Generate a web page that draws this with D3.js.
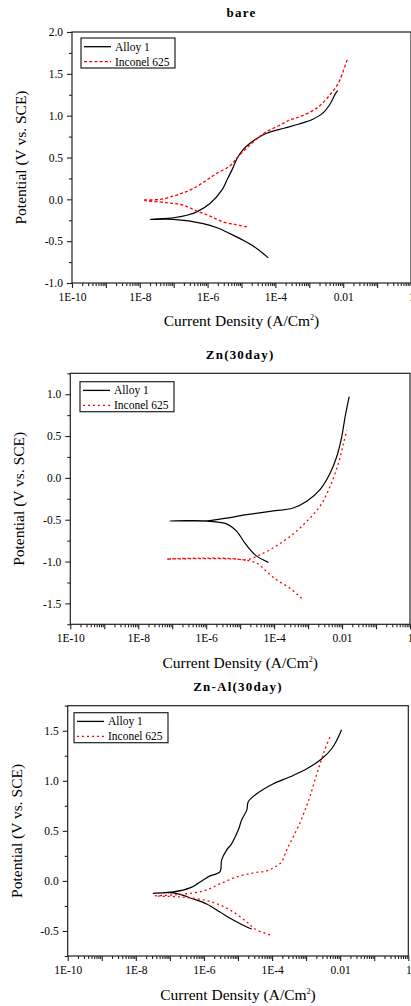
<!DOCTYPE html>
<html>
<head>
<meta charset="utf-8">
<script src="https://cdn.jsdelivr.net/npm/d3@7"></script>
<style>
  body { margin: 0; background: #fff; }
  text { font-family: "Liberation Serif", "Times New Roman", serif; fill: #000; }
</style>
</head>
<body>
<div id="vis"></div>
<script>
// values: [log10 current density, potential V]
var bareAlloy1 = [[-4.21,-0.70],[-4.54,-0.59],[-4.95,-0.49],[-5.34,-0.41],[-5.72,-0.34],[-6.13,-0.29],[-7.01,-0.24],[-7.69,-0.24],
                  [-7.01,-0.22],[-6.61,-0.19],[-6.32,-0.15],[-5.93,-0.05],[-5.58,0.11],[-5.43,0.23],[-5.26,0.37],[-5.13,0.49],
                  [-4.94,0.60],[-4.75,0.67],[-4.50,0.74],[-4.26,0.79],[-3.75,0.85],[-3.30,0.90],[-2.88,0.96],[-2.60,1.03],
                  [-2.40,1.13],[-2.22,1.27],[-2.16,1.30]];
var bareInconel = [[-4.84,-0.33],[-5.20,-0.30],[-5.54,-0.27],[-5.93,-0.20],[-6.32,-0.14],[-6.72,-0.07],[-7.21,-0.04],[-7.90,-0.01],
                   [-7.40,0.00],[-7.00,0.04],[-6.71,0.08],[-6.42,0.13],[-6.10,0.21],[-5.73,0.31],[-5.34,0.40],[-5.10,0.51],
                   [-4.75,0.65],[-4.50,0.74],[-4.26,0.81],[-3.90,0.88],[-3.57,0.95],[-3.27,0.99],[-2.78,1.09],[-2.39,1.25],
                   [-2.14,1.39],[-1.95,1.59],[-1.88,1.67]];

var znAlloy1 = [[-4.17,-1.01],[-4.56,-0.92],[-4.86,-0.78],[-5.10,-0.64],[-5.40,-0.55],[-5.89,-0.52],[-6.60,-0.515],[-7.07,-0.515],
                [-6.60,-0.51],[-5.89,-0.51],[-5.40,-0.48],[-4.81,-0.44],[-4.12,-0.40],[-3.44,-0.36],[-3.04,-0.28],[-2.65,-0.14],
                [-2.36,0.05],[-2.16,0.25],[-2.01,0.49],[-1.91,0.73],[-1.79,0.97]];
var znInconel = [[-3.19,-1.44],[-3.53,-1.32],[-3.92,-1.22],[-4.22,-1.12],[-4.51,-1.02],[-5.10,-0.97],[-6.18,-0.96],[-7.16,-0.97],
                 [-6.18,-0.965],[-5.10,-0.97],[-4.81,-0.98],[-4.42,-0.92],[-3.92,-0.81],[-3.44,-0.67],[-3.04,-0.52],[-2.65,-0.34],
                 [-2.36,-0.11],[-2.11,0.17],[-1.96,0.41],[-1.86,0.57]];

var znAlAlloy1 = [[-4.60,-0.48],[-4.74,-0.46],[-5.14,-0.39],[-5.53,-0.31],[-5.92,-0.23],[-6.31,-0.18],[-6.90,-0.12],[-7.49,-0.124],
                  [-6.90,-0.11],[-6.41,-0.07],[-6.02,0.01],[-5.82,0.05],[-5.53,0.09],[-5.48,0.21],[-5.33,0.31],[-5.19,0.37],
                  [-4.99,0.51],[-4.89,0.61],[-4.74,0.71],[-4.70,0.79],[-4.45,0.87],[-3.96,0.97],[-3.47,1.04],[-2.98,1.12],
                  [-2.54,1.22],[-2.25,1.32],[-2.05,1.44],[-1.96,1.51]];
var znAlInconel = [[-4.06,-0.54],[-4.50,-0.48],[-4.74,-0.41],[-5.14,-0.31],[-5.53,-0.24],[-6.02,-0.19],[-6.70,-0.16],[-7.44,-0.15],
                   [-6.90,-0.14],[-6.31,-0.12],[-5.92,-0.09],[-5.53,-0.03],[-5.04,0.04],[-4.55,0.08],[-4.16,0.10],[-3.91,0.14],
                   [-3.72,0.19],[-3.57,0.31],[-3.38,0.44],[-3.18,0.58],[-3.03,0.71],[-2.89,0.84],[-2.74,1.01],[-2.59,1.17],
                   [-2.45,1.31],[-2.30,1.44]];

var seriesNames = ["Alloy 1", "Inconel 625"];
var panelTitles = ["bare", "Zn(30day)", "Zn-Al(30day)"];
var xTickLabels = ["1E-10", "1E-8", "1E-6", "1E-4", "0.01", "1"];
var xLabelDecades = [-10, -8, -6, -4, -2, 0];
var yDomains = [[-1, 2], [-1.75, 1.25], [-0.75, 1.75]];
var yTicks = [[-1, -0.5, 0, 0.5, 1, 1.5, 2], [-1.5, -1, -0.5, 0, 0.5, 1], [-0.5, 0, 0.5, 1, 1.5]];

var panels = [
  {data: [bareAlloy1, bareInconel], left: 72, right: 411, top: 32, bottom: 283,
   titleY: 17, xLabelY: 326, yLabelX: 26, legend: [9, 6], dash: "3,2.2"},
  {data: [znAlloy1, znInconel], left: 70.3, right: 410, top: 373.3, bottom: 624.3,
   titleY: 359, xLabelY: 668, yLabelX: 24, legend: [9.7, 8.4], dash: "2,3"},
  {data: [znAlAlloy1, znAlInconel], left: 67.7, right: 408.3, top: 705.7, bottom: 956,
   titleY: 691, xLabelY: 1000, yLabelX: 21.5, legend: [6.3, 7], dash: "2,3"}
];

var colors = ["#000000", "#ff0000"];

var svg = d3.select("#vis").append("svg")
    .attr("width", 411)
    .attr("height", 1006);

var decades = d3.range(-10, 1);
var majorX = decades.map(function(e) { return Math.pow(10, e); });
var minorX = [];
decades.slice(0, -1).forEach(function(e) {
  for (var k = 2; k < 10; k++) minorX.push(k * Math.pow(10, e));
});

panels.forEach(function(p, i) {
  var x = d3.scaleLog().domain([1e-10, 1]).range([p.left, p.right]);
  var y = d3.scaleLinear().domain(yDomains[i]).range([p.bottom, p.top]);
  var g = svg.append("g");

  // frame
  g.append("rect")
      .attr("x", p.left)
      .attr("y", p.top)
      .attr("width", p.right - p.left)
      .attr("height", p.bottom - p.top)
      .attr("fill", "none")
      .attr("stroke", "#222")
      .attr("stroke-width", 1.2);

  g.append("g")
      .attr("transform", "translate(0," + p.bottom + ")")
      .call(d3.axisBottom(x).tickValues(majorX).tickSize(5).tickPadding(5)
        .tickFormat(function(d) {
          var k = xLabelDecades.indexOf(Math.round(Math.log10(d)));
          return k >= 0 ? xTickLabels[k] : "";
        }));
  g.append("g")
      .attr("transform", "translate(0," + p.bottom + ")")
      .call(d3.axisBottom(x).tickValues(minorX).tickSize(3).tickFormat(""));

  var yMinor = d3.range(Math.ceil(yDomains[i][0] / 0.25) * 0.25, yDomains[i][1] + 0.001, 0.25)
      .filter(function(v) { return Math.abs(v * 2 - Math.round(v * 2)) > 0.01; });

  g.append("g")
      .attr("transform", "translate(" + p.left + ",0)")
      .call(d3.axisLeft(y).tickValues(yTicks[i]).tickSize(5).tickPadding(4)
        .tickFormat(function(d) { return d.toFixed(1); }));
  g.append("g")
      .attr("transform", "translate(" + p.left + ",0)")
      .call(d3.axisLeft(y).tickValues(yMinor).tickSize(3).tickFormat(""));

  g.selectAll(".domain").remove();
  g.selectAll(".tick line").attr("stroke", "#222").attr("stroke-width", 1.1);
  g.selectAll(".tick text")
      .style("font-family", "Liberation Serif")
      .style("font-size", "11.5px")
      .attr("fill", "#222");

  // curves
  var line = d3.line()
      .x(function(d) { return x(Math.pow(10, d[0])); })
      .y(function(d) { return y(d[1]); })
      .curve(d3.curveCatmullRom.alpha(0.5));

  p.data.forEach(function(s, j) {
    g.append("path")
        .datum(s)
        .attr("d", line)
        .attr("fill", "none")
        .attr("stroke", colors[j])
        .attr("stroke-width", j == 0 ? 1.2 : 1.3)
        .attr("stroke-dasharray", j == 0 ? null : p.dash);
  });

  // title
  g.append("text")
      .attr("x", (p.left + p.right) / 2)
      .attr("y", p.titleY)
      .style("text-anchor", "middle")
      .style("font-weight", "bold")
      .style("font-size", "13px")
      .style("letter-spacing", "1.2px")
      .text(panelTitles[i]);

  // axis labels
  var xl = g.append("text")
      .attr("x", (p.left + p.right) / 2)
      .attr("y", p.xLabelY)
      .style("text-anchor", "middle")
      .style("font-size", "15.5px")
      .text("Current Density (A/Cm");
  xl.append("tspan").attr("dy", -6).style("font-size", "8px").text("2");
  xl.append("tspan").attr("dy", 6).text(")");

  g.append("text")
      .attr("transform", "translate(" + p.yLabelX + "," + ((p.top + p.bottom) / 2) + ") rotate(-90)")
      .style("text-anchor", "middle")
      .style("font-size", "15.5px")
      .text("Potential (V vs. SCE)");

  // legend
  var lg = g.append("g")
      .attr("transform", "translate(" + (p.left + p.legend[0]) + "," + (p.top + p.legend[1]) + ")");
  lg.append("rect")
      .attr("width", 94)
      .attr("height", 30)
      .attr("fill", "#fff")
      .attr("stroke", "#222")
      .attr("stroke-width", 1.2);
  seriesNames.forEach(function(name, j) {
    var ly = 8.7 + j * 15;
    lg.append("line")
        .attr("x1", 3).attr("x2", 30)
        .attr("y1", ly).attr("y2", ly)
        .attr("stroke", colors[j])
        .attr("stroke-width", 1.3)
        .attr("stroke-dasharray", j == 0 ? null : p.dash);
    lg.append("text")
        .attr("x", 34)
        .attr("y", ly)
        .attr("dy", "0.35em")
        .style("font-size", "11.5px")
        .text(name);
  });
});
</script>
</body>
</html>
